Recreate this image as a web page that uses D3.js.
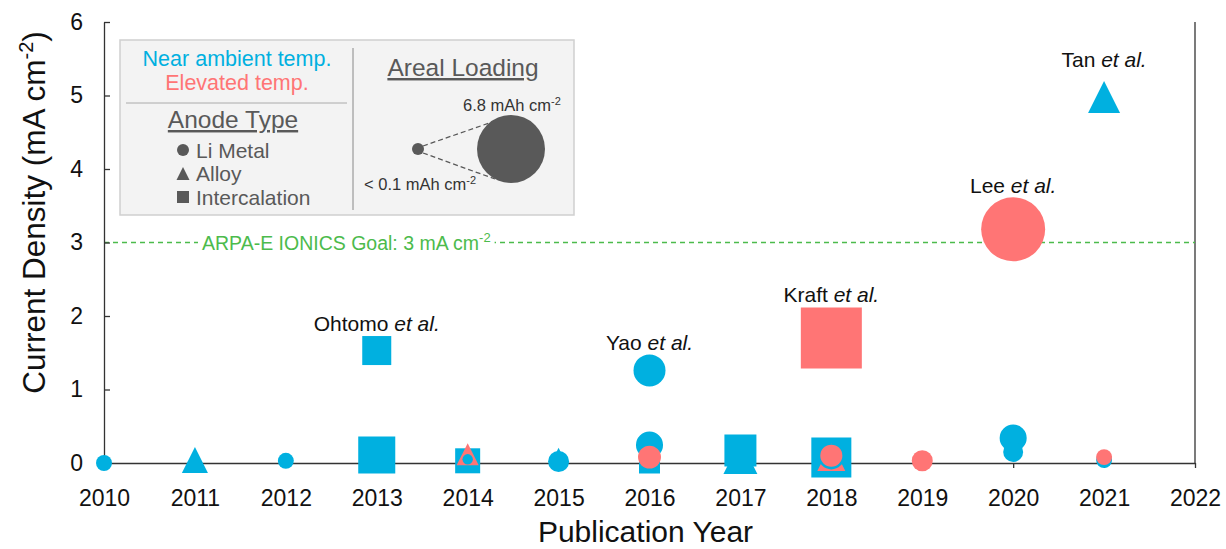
<!DOCTYPE html>
<html>
<head>
<meta charset="utf-8">
<script src="https://cdn.jsdelivr.net/npm/d3@7"></script>
<style>
  body { margin: 0; background: #fff; }
  text { font-family: "Liberation Sans", Arial, sans-serif; }
</style>
</head>
<body>
<div id="chart"></div>
<script>
// Current density vs publication year, marker size = areal loading

var svgWidth = 1226;
var svgHeight = 549;

var margin = { top: 22, right: 31, bottom: 86, left: 104 };
const width = svgWidth - margin.left - margin.right;
const height = svgHeight - margin.top - margin.bottom;

// data (drawing order matters for overlaps)
const years    = [2010, 2011, 2012, 2013, 2013, 2014, 2014, 2014, 2015, 2015, 2016, 2016, 2016, 2016, 2017, 2017, 2018, 2018, 2018, 2018, 2018, 2019, 2020, 2020, 2020, 2021, 2021, 2021];
const density  = [0.0,  0.04, 0.03, 0.11, 1.53, 0.03, 0.12, 0.05, 0.10, 0.02, 0.0,  0.245, 0.08, 1.26, 0.08, 0.17, 0.075, 0.08, 0.09, 0.10, 1.70, 0.03, 0.34, 0.15, 3.18, 0.04, 0.08, 4.98];
const anode    = ['li', 'alloy', 'li', 'inter', 'inter', 'inter', 'alloy', 'li', 'alloy', 'li', 'inter', 'li', 'li', 'li', 'alloy', 'inter', 'inter', 'alloy', 'li', 'li', 'inter', 'li', 'li', 'li', 'li', 'li', 'li', 'alloy'];
const temp     = ['amb', 'amb', 'amb', 'amb', 'amb', 'amb', 'elev', 'amb', 'amb', 'amb', 'amb', 'amb', 'elev', 'amb', 'amb', 'amb', 'amb', 'elev', 'amb', 'elev', 'elev', 'elev', 'amb', 'amb', 'elev', 'amb', 'elev', 'amb'];
const loading  = [0.70, 1.88, 0.70, 3.17, 2.23, 1.76, 1.41, 0.05, 0.70, 1.29, 1.29, 2.0, 1.52, 2.58, 2.81, 2.58, 3.52, 2.11, 1.88, 1.41, 5.98, 1.29, 2.0, 1.17, 6.33, 0.70, 0.70, 2.58];

const labels = [
    { name: 'Ohtomo', year: 2013, value: 1.53, dy: -20 },
    { name: 'Yao',    year: 2016, value: 1.26, dy: -20 },
    { name: 'Kraft',  year: 2018, value: 1.70, dy: -36 },
    { name: 'Lee',    year: 2020, value: 3.18, dy: -36 },
    { name: 'Tan',    year: 2021, value: 4.98, dy: -30 }
];

const xTicks = d3.range(2010, 2023);
const yTicks = [0, 1, 2, 3, 4, 5, 6];
const goal = 3;

const colors = { amb: '#00b0e0', elev: '#ff7575' };
const grey = '#595959';

var svg = d3.select('#chart')
    .append('svg')
    .attr('width', svgWidth)
    .attr('height', svgHeight);

var chartGroup = svg.append('g')
    .attr('transform', `translate(${margin.left}, ${margin.top})`);

var xScale = d3.scaleLinear().domain([2010, 2022]).range([0, width]);
var yScale = d3.scaleLinear().domain([0, 6]).range([height, 0]);
// marker width (px) from areal loading
var sizeScale = d3.scaleLinear().domain([0, 6.8]).range([10, 68]);

// right frame line
chartGroup.append('line')
    .attr('x1', width).attr('x2', width)
    .attr('y1', 0).attr('y2', height)
    .attr('stroke', '#333').attr('stroke-width', 1.3);

// goal line
chartGroup.append('line')
    .attr('x1', 0).attr('x2', width)
    .attr('y1', yScale(goal)).attr('y2', yScale(goal))
    .attr('stroke', '#4cbb4c').attr('stroke-width', 1.3)
    .attr('stroke-dasharray', '5,4');

var goalText = chartGroup.append('text')
    .attr('x', 98)
    .attr('y', yScale(goal) + 7)
    .attr('fill', '#4cbb4c')
    .attr('font-size', 19.5);
goalText.append('tspan').text('ARPA-E IONICS Goal: 3 mA cm');
goalText.append('tspan').attr('font-size', 13).attr('dy', -8).text('-2');
var gb = goalText.node().getBBox();
chartGroup.insert('rect', 'text')
    .attr('x', gb.x - 4).attr('y', yScale(goal) - 3)
    .attr('width', gb.width + 8).attr('height', 6)
    .attr('fill', '#fff');

// axes
var x_axis = d3.axisBottom(xScale)
    .tickValues(xTicks)
    .tickFormat(d3.format('d'))
    .tickSize(5)
    .tickSizeOuter(0)
    .tickPadding(22);

var y_axis = d3.axisLeft(yScale)
    .tickValues(yTicks)
    .tickFormat(d3.format('d'))
    .tickSize(-6)
    .tickSizeOuter(0)
    .tickPadding(21);

var xg = chartGroup.append('g')
    .attr('transform', `translate(0, ${height})`)
    .call(x_axis);
var yg = chartGroup.append('g').call(y_axis);

[xg, yg].forEach(g => {
    g.attr('font-size', 23).attr('font-family', '"Liberation Sans", Arial, sans-serif');
    g.selectAll('path, line').attr('stroke', '#333').attr('stroke-width', 1.3);
    g.selectAll('text').attr('fill', '#111');
});

// axis titles
svg.append('text')
    .attr('x', margin.left + width / 2 - 4)
    .attr('y', 542)
    .attr('text-anchor', 'middle')
    .attr('font-size', 30)
    .attr('fill', '#111')
    .text('Publication Year');

var yTitle = svg.append('text')
    .attr('transform', `translate(45, ${margin.top + height / 2 - 30}) rotate(-90)`)
    .attr('text-anchor', 'middle')
    .attr('font-size', 31.5)
    .attr('fill', '#111');
yTitle.append('tspan').text('Current Density (mA cm');
yTitle.append('tspan').attr('font-size', 20).attr('dy', -12).text('-2');
yTitle.append('tspan').attr('dy', 12).text(')');

// marker shapes
function markerPath(type, w) {
    var h = w / 2;
    if (type === 'li') return d3.symbol(d3.symbolCircle, Math.PI * h * h)();
    if (type === 'inter') return `M${-h},${-h}H${h}V${h}H${-h}Z`;
    return `M0,${-h}L${h},${h}L${-h},${h}Z`;
}

const points = years.map((y, i) => ({
    year: y, value: density[i], type: anode[i], temp: temp[i], load: loading[i]
}));

chartGroup.append('g')
    .selectAll('path')
    .data(points)
    .enter()
    .append('path')
    .attr('transform', d => `translate(${xScale(d.year)}, ${yScale(d.value)})`)
    .attr('d', d => markerPath(d.type, sizeScale(d.load)))
    .attr('fill', d => colors[d.temp]);

// author labels
labels.forEach(l => {
    var t = chartGroup.append('text')
        .attr('x', xScale(l.year))
        .attr('y', yScale(l.value) + l.dy)
        .attr('text-anchor', 'middle')
        .attr('font-size', 21)
        .attr('fill', '#111');
    t.append('tspan').text(l.name + ' ');
    t.append('tspan').attr('font-style', 'italic').text('et al.');
});

// legend box
var legend = svg.append('g');
legend.append('rect')
    .attr('x', 120).attr('y', 40)
    .attr('width', 454).attr('height', 175)
    .attr('fill', '#f3f3f3')
    .attr('stroke', '#cfcfcf').attr('stroke-width', 1.5);
legend.append('line')
    .attr('x1', 353).attr('x2', 353).attr('y1', 48).attr('y2', 210)
    .attr('stroke', '#888').attr('stroke-width', 1);
legend.append('line')
    .attr('x1', 126).attr('x2', 347).attr('y1', 103).attr('y2', 103)
    .attr('stroke', '#aaa').attr('stroke-width', 1);

legend.append('text').attr('x', 237).attr('y', 66).attr('text-anchor', 'middle')
    .attr('font-size', 21.5).attr('fill', colors.amb).text('Near ambient temp.');
legend.append('text').attr('x', 237).attr('y', 90).attr('text-anchor', 'middle')
    .attr('font-size', 21.5).attr('fill', colors.elev).text('Elevated temp.');

legend.append('text').attr('x', 233).attr('y', 128).attr('text-anchor', 'middle')
    .attr('font-size', 24.5).attr('fill', grey)
    .attr('text-decoration', 'underline').text('Anode Type');
legend.append('text').attr('x', 463).attr('y', 76).attr('text-anchor', 'middle')
    .attr('font-size', 24.5).attr('fill', grey)
    .attr('text-decoration', 'underline').text('Areal Loading');

const legendTypes = ['li', 'alloy', 'inter'];
const legendNames = ['Li Metal', 'Alloy', 'Intercalation'];
legendTypes.forEach((t, i) => {
    var cy = 150 + i * 23.5;
    legend.append('path')
        .attr('transform', `translate(183, ${cy})`)
        .attr('d', markerPath(t, t === 'alloy' ? 13 : 12))
        .attr('fill', grey);
    legend.append('text').attr('x', 196).attr('y', cy + 7.5)
        .attr('font-size', 21).attr('fill', grey).text(legendNames[i]);
});

// areal loading scale
const loadMin = 0.1, loadMax = 6.8;
var smallR = sizeScale(loadMin) / 2 + 0.6, bigR = sizeScale(loadMax) / 2;
legend.append('line').attr('x1', 423).attr('y1', 146).attr('x2', 495).attr('y2', 121)
    .attr('stroke', grey).attr('stroke-width', 1.3).attr('stroke-dasharray', '5,3');
legend.append('line').attr('x1', 423).attr('y1', 153).attr('x2', 495).attr('y2', 179)
    .attr('stroke', grey).attr('stroke-width', 1.3).attr('stroke-dasharray', '5,3');
legend.append('circle').attr('cx', 418).attr('cy', 149).attr('r', smallR).attr('fill', grey);
legend.append('circle').attr('cx', 511).attr('cy', 149).attr('r', bigR).attr('fill', grey);

var t1 = legend.append('text').attr('x', 463).attr('y', 111)
    .attr('font-size', 16.5).attr('fill', '#333');
t1.append('tspan').text('6.8 mAh cm');
t1.append('tspan').attr('font-size', 11).attr('dy', -6).text('-2');
var t2 = legend.append('text').attr('x', 364).attr('y', 190)
    .attr('font-size', 16.5).attr('fill', '#333');
t2.append('tspan').text('< 0.1 mAh cm');
t2.append('tspan').attr('font-size', 11).attr('dy', -6).text('-2');
</script>
</body>
</html>
